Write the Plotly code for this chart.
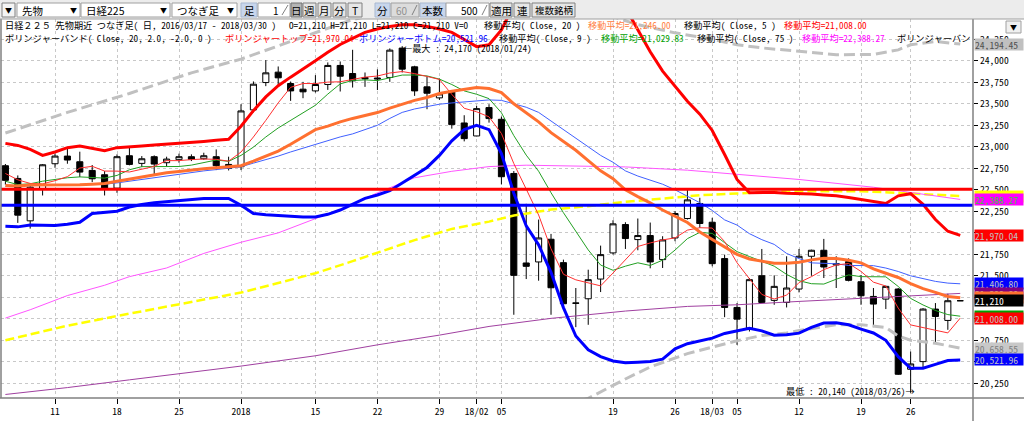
import plotly.graph_objects as go

# ---------------- data ----------------
DATES = ["12/05","12/06","12/07","12/08","12/11","12/12","12/13","12/14","12/15","12/18","12/19","12/20","12/21","12/22",
         "12/25","12/26","12/27","12/28","12/29","01/04","01/05","01/09","01/10","01/11","01/12","01/15","01/16","01/17",
         "01/18","01/19","01/22","01/23","01/24","01/25","01/26","01/29","01/30","01/31","02/01","02/02","02/05","02/06",
         "02/07","02/08","02/09","02/13","02/14","02/15","02/16","02/19","02/20","02/21","02/22","02/23","02/26","02/27",
         "02/28","03/01","03/02","03/05","03/06","03/07","03/08","03/09","03/12","03/13","03/14","03/15","03/16","03/19",
         "03/20","03/22","03/23","03/26","03/27","03/28","03/29","03/30"]

OPEN = [22780,22632,22139,22512,22803,22892,22826,22725,22675,22519,22896,22807,22885,22815,22850,22885,22861,22885,22795,
        22768,23429,23747,23868,23736,23670,23650,23724,23946,23852,23806,23800,23806,24148,23930,23697,23569,23639,23277,
        23126,23456,23320,22690,21649,21661,21925,21653,21185,21233,21462,21766,22096,21921,21968,21688,21940,22166,22341,
        22123,21700,21132,20891,21501,21214,21190,21346,21727,21797,21626,21665,21431,21260,21229,21346,20413,20502,21113,
        20981,21210]
HIGH = [22800,22667,22574,22799,22920,22978,22943,22788,22718,22912,22986,22892,22900,22885,22920,22912,22931,22970,22885,
        23495,23760,24008,23934,23759,23755,23833,23981,23992,24128,23864,23900,24144,24170,23942,23817,23794,23650,23367,
        23475,23495,23351,22718,22337,22154,21987,21688,21358,21571,21851,22146,22123,22166,22119,21960,22251,22516,22407,
        22174,21746,21183,21474,21812,21505,21727,21812,21804,21929,21727,21703,21509,21358,21385,21358,20619,21124,21183,
        21291,21210]
LOW = [22560,22115,22049,22434,22756,22803,22648,22589,22434,22465,22784,22764,22683,22768,22815,22834,22850,22729,22725,
       22729,23400,23705,23716,23534,23565,23631,23662,23643,23689,23697,23660,23755,23864,23592,23437,23545,23211,23063,
       23122,23281,22562,21047,21462,21443,21047,21144,20903,20930,21311,21746,21812,21797,21587,21591,21902,22154,22057,
       21610,21019,20697,20852,21183,21163,21132,21307,21501,21474,21358,21435,21163,20903,21113,20347,20140,20425,20716,
       20872,21210]
CLOSE = [22610,22205,22531,22791,22892,22846,22706,22628,22519,22885,22795,22861,22799,22857,22885,22854,22896,22780,22749,
         23417,23728,23860,23802,23650,23639,23724,23946,23821,23767,23790,23790,24124,23903,23650,23623,23615,23258,23095,
         23444,23328,22652,21505,21610,21940,21361,21175,21180,21455,21746,22104,21933,21968,21661,21917,22224,22383,22108,
         21641,21132,20996,21455,21190,21377,21358,21727,21797,21602,21641,21447,21268,21171,21377,20355,20475,21113,21027,
         21210,21210]

MA5 = [22690,22616,22574,22569,22606,22653,22753,22773,22718,22717,22707,22738,22772,22839,22839,22851,22858,22854,22833,
       22939,23114,23307,23511,23691,23736,23735,23752,23756,23779,23810,23823,23858,23875,23851,23818,23783,23610,23448,
       23407,23348,23155,22805,22508,22207,21814,21518,21453,21422,21383,21532,21684,21841,21882,21917,21941,22031,22059,
       22055,21898,21652,21466,21283,21230,21275,21421,21490,21572,21625,21643,21551,21426,21381,21124,20929,20898,20869,
       20836,21008]
MA9 = [22600,22560,22570,22600,22620,22640,22650,22640,22636,22667,22733,22769,22770,22766,22771,22787,22817,22846,22831,
       22900,22996,23114,23219,23304,23391,23483,23613,23732,23771,23778,23770,23806,23834,23835,23824,23787,23724,23650,
       23611,23560,23396,23130,22903,22716,22466,22234,22022,21801,21625,21564,21612,21651,21620,21682,21799,21932,22005,
       21993,21885,21781,21724,21672,21612,21516,21443,21408,21404,21460,21510,21490,21488,21488,21376,21237,21161,21097,
       21049,21030]
MA20 = [22550,22543,22555,22555,22550,22555,22558,22565,22574,22600,22625,22650,22675,22698,22712,22730,22745,22755,22764,
        22780,22834,22890,22950,23030,23120,23200,23240,23290,23330,23365,23398,23450,23495,23540,23573,23620,23645,23665,
        23689,23677,23631,23500,23400,23290,23165,23060,22960,22840,22720,22630,22500,22420,22349,22265,22190,22120,22010,
        21920,21840,21750,21695,21670,21645,21645,21657,21685,21705,21700,21680,21650,21580,21530,21480,21410,21350,21307,
        21260,21246]
BB_UP = [23040,23016,22970,22900,22940,22990,23009,22980,22955,22990,22997,23010,23021,23030,23040,23050,23063,23075,23087,
         23240,23420,23580,23710,23810,23900,24000,24100,24190,24260,24330,24370,24400,24420,24420,24400,24370,24330,24245,
         24165,24186,24360,24650,24850,24950,25050,25100,25100,25050,24950,24800,24620,24360,24105,23880,23700,23530,23380,
         23190,22910,22620,22465,22470,22470,22460,22457,22450,22440,22430,22410,22387,22368,22341,22430,22455,22330,22154,
         22018,21970]
BB_LO = [22075,22069,22090,22090,22084,22100,22123,22225,22240,22251,22300,22330,22349,22360,22372,22390,22399,22399,22399,
         22320,22224,22210,22201,22190,22185,22185,22215,22265,22335,22400,22440,22490,22580,22670,22760,22900,23070,23200,
         23250,23200,22920,22460,22080,21860,21540,21130,20800,20640,20560,20510,20490,20495,20503,20530,20650,20710,20740,
         20775,20830,20860,20891,20860,20810,20815,20833,20900,20950,20955,20930,20880,20835,20750,20560,20425,20425,20470,
         20515,20522]
MA_BLUE = [22540,22545,22550,22555,22560,22560,22560,22560,22565,22580,22600,22625,22645,22665,22685,22705,22720,22735,22748,
           22768,22810,22850,22892,22940,22985,23025,23070,23115,23150,23200,23250,23330,23400,23440,23470,23495,23510,23522,
           23532,23545,23540,23500,23460,23400,23300,23210,23100,23000,22900,22820,22720,22660,22610,22565,22500,22426,22350,
           22260,22150,22090,21990,21920,21865,21760,21700,21650,21648,21640,21620,21618,21618,21590,21550,21500,21465,21435,
           21415,21407]

MA75_IDX = [0, 2, 5, 8, 10, 13, 16, 19, 22, 25, 28, 30, 33, 36, 39, 42, 47, 50, 55, 59, 64, 70, 72, 75, 77]
MA75 = [21008,21105,21270,21390,21490,21591,21760,21890,21999,22160,22330,22465,22640,22715,22770,22786,22776,22766,
        22728,22680,22620,22530,22487,22426,22388]
YEL_IDX = [0, 2, 5, 8, 10, 13, 16, 19, 22, 25, 28, 30, 33, 36, 39, 41, 44, 47, 50, 53, 56, 59, 62, 65, 69, 72, 75, 77]
YEL = [20750,20820,20920,21005,21060,21144,21225,21305,21416,21530,21670,21766,21915,22045,22130,22200,22270,22310,
       22360,22398,22436,22457,22478,22484,22484,22465,22444,22427]
PUR_IDX = [0, 5, 10, 15, 19, 25, 30, 35, 39, 44, 50, 55, 59, 64, 70, 75, 77]
PUR = [20120,20200,20290,20380,20450,20570,20697,20810,20911,21005,21090,21144,21163,21202,21245,21280,21295]
GUP_IDX = [0, 5, 10, 15, 19, 22, 25, 28, 32, 36, 40, 44, 48, 51, 54, 57, 59, 61, 64, 67, 70, 72, 73, 75, 77]
GUP = [23160,23400,23620,23860,24020,24175,24330,24480,24600,24700,24720,24650,24560,24420,24325,24250,24186,24150,
       24110,24069,24075,24127,24186,24225,24194]
GLO_IDX = [44, 47, 50, 52, 55, 59, 61, 63, 64, 67, 69, 71, 72, 73, 75, 77]
GLO = [19950,20075,20300,20440,20595,20745,20805,20835,20865,20930,20932,20900,20800,20750,20716,20658]

HLINE_RED = 22505
HLINE_BLUE = 22320

TICK_IDX = [4, 9, 14, 19, 25, 30, 35, 38, 40, 49, 54, 57, 59, 64, 69, 73]
TICK_TEXT = ["11", "18", "25", "2018", "15", "22", "29", "18/02", "05", "19", "26", "18/03", "05", "12", "19", "26"]
Y_TICKS = [20250, 20500, 20750, 21000, 21250, 21500, 21750, 22000, 22250, 22500, 22750, 23000, 23250, 23500, 23750, 24000, 24250]
# labels hidden behind the value boxes in the reference are left blank
Y_TEXT = ["20,250", "", "20,750", "", "", "21,500", "21,750", "", "22,250", "22,500",
          "22,750", "23,000", "23,250", "23,500", "23,750", "24,000", "24,250"]

# value labels on the right (value, text, background, text colour), in drawing order
VALUE_LABELS = [
    (24194.45, "24,194.45", "#c0c0c0", "#505050"),
    (22426.50, "22,426.50", "#ffff00", "#909090"),
    (22388.27, "22,388.27", "#ff00ff", "#40c040"),
    (21970.04, "21,970.04", "#ff0000", "#c0c0c0"),
    (21406.80, "21,406.80", "#0000ff", "#c0c0c0"),
    (21298.80, "21,298.80", "#800080", "#c0c0c0"),
    (21246.00, "21,246.00", "#ff7030", "#c0c0c0"),
    (21210.00, "21,210", "#000000", "#ffffff"),
    (21029.83, "21,029.83", "#00a000", "#c0c0c0"),
    (21008.00, "21,008.00", "#ff0000", "#c0c0c0"),
    (20658.55, "20,658.55", "#c8c8c8", "#808080"),
    (20521.96, "20,521.96", "#0000ff", "#c0c0c0"),
]

# ---------------- geometry ----------------
W, H = 1024, 421
ML, MR, MT, MB = 1, 51, 19, 23
PW, PH = W - ML - MR, H - MT - MB


def PX(px):
    return (px - ML) / PW


def PY(py):
    return (H - MB - py) / PH


X = list(range(len(DATES)))
FONT = "Noto Sans Mono CJK JP, Noto Sans CJK JP, sans-serif"
UIFONT = "Noto Sans CJK JP, sans-serif"

fig = go.Figure()

fig.add_trace(go.Candlestick(
    x=X, open=OPEN, high=HIGH, low=LOW, close=CLOSE,
    increasing=dict(line=dict(color="#000000", width=1), fillcolor="#ffffff"),
    decreasing=dict(line=dict(color="#000000", width=1), fillcolor="#000000"),
    whiskerwidth=0, showlegend=False, hoverinfo="skip"))


def line(xs, ys, color, width, dash=None):
    fig.add_trace(go.Scatter(x=xs, y=ys, mode="lines", showlegend=False, hoverinfo="skip",
                             line=dict(color=color, width=width, dash=dash)))


line(PUR_IDX, PUR, "#a040a0", 1)
line(YEL_IDX, YEL, "#ffff00", 2.5, "9px,4px")
line(MA75_IDX, MA75, "#ff55ff", 1)
line(GUP_IDX, GUP, "#c0c0c0", 3, "11px,5px")
line(GLO_IDX, GLO, "#c0c0c0", 3, "11px,5px")
line(X, MA_BLUE, "#4060ff", 1)
line(X, MA9, "#22a022", 1)
line(X, MA5, "#ff3030", 1)
line(X, MA20, "#ff7030", 3)
line(X, BB_LO, "#0000ff", 3)
line(X, BB_UP, "#ff0000", 3)
line([-1, 79], [HLINE_RED, HLINE_RED], "#ff0000", 3)
line([-1, 79], [HLINE_BLUE, HLINE_BLUE], "#0000ff", 3)

xr = [-0.355, 78.03]
yr = [20079, 24486]

fig.update_layout(
    width=W, height=H, margin=dict(l=ML, r=MR, t=MT, b=MB),
    paper_bgcolor="#ffffff", plot_bgcolor="#ffffff",
    xaxis=dict(range=xr, tickvals=TICK_IDX, ticktext=TICK_TEXT, showgrid=True, gridcolor="#c8c8c8",
               griddash="3px,3px", zeroline=False, ticks="outside", ticklen=5, tickcolor="#000000",
               tickfont=dict(family=FONT, size=9.5, color="#000000"), rangeslider=dict(visible=False),
               showline=False, fixedrange=True),
    yaxis=dict(range=yr, side="right", tickvals=Y_TICKS, ticktext=Y_TEXT, showgrid=True, gridcolor="#c8c8c8",
               griddash="3px,3px", zeroline=False, ticks="outside", ticklen=4, tickcolor="#000000",
               tickfont=dict(family=FONT, size=9.6, color="#000000"), showline=False, fixedrange=True),
    showlegend=False,
)

shapes = []
ann = []


def rect(x0, y0, x1, y1, fill, border=None, bw=1):
    shapes.append(dict(type="rect", xref="paper", yref="paper", x0=PX(x0), x1=PX(x1), y0=PY(y0), y1=PY(y1),
                       fillcolor=fill, line=dict(color=border or fill, width=bw if border else 0), layer="above"))


def seg(x0, y0, x1, y1, color, w=1):
    shapes.append(dict(type="line", xref="paper", yref="paper", x0=PX(x0), x1=PX(x1), y0=PY(y0), y1=PY(y1),
                       line=dict(color=color, width=w), layer="above"))


def txt(px, py, s, color="#000000", size=9.2, anchor="left", font=FONT):
    ann.append(dict(xref="paper", yref="paper", x=PX(px), y=PY(py), text=s, showarrow=False, xanchor=anchor,
                    yanchor="middle", font=dict(family=font, size=size, color=color)))


# frame lines
seg(973, 19, 973, 421, "#808080", 1.5)
seg(0, 398, 1024, 398, "#808080", 1.5)
seg(1, 19, 1, 398, "#808080", 1.5)

# toolbar
rect(0, 0, 1024, 19, "#ececec")
seg(0, 19, 1024, 19, "#a0a0a0", 1)
rect(2, 3, 15, 17, "#f4f4f4", "#808080")
txt(8.5, 10, "▼", size=7, anchor="center", font=UIFONT)
for (a, b, label, arr) in [(17, 80, "先物", 73), (81, 170, "日経225", 163), (172, 237, "つなぎ足", 230)]:
    rect(a, 3, b, 17, "#ffffff", "#a0a0a0")
    txt(a + 3, 10, label, size=10.5, font=UIFONT)
    txt(arr, 10, "▼", size=7, anchor="center", font=UIFONT)
for (a, b, label) in [(241, 257, "足"), (375, 390, "分"), (420, 446, "本数")]:
    rect(a, 3, b, 17, "#c8d6ec", "#a8b8d0")
    txt((a + b) / 2, 10, label, size=10.5, anchor="center", font=UIFONT)
rect(258, 3, 290, 17, "#ffffff", "#a0a0a0")
txt(281, 10, "1", size=10, anchor="right", font=UIFONT)
rect(391, 3, 419, 17, "#dcdcdc", "#a0a0a0")
txt(410, 10, "60", color="#909090", size=10, anchor="right", font=UIFONT)
rect(446, 3, 489, 17, "#ffffff", "#a0a0a0")
txt(480, 10, "500", size=10, anchor="right", font=UIFONT)
for (a, b) in [(281, 289), (411, 418), (481, 488)]:
    seg(a + 1, 15, b - 1, 5, "#808080", 1)
rect(291, 3, 302, 17, "#b4b4b4", "#707070")
txt(296.5, 10, "日", size=10.5, anchor="center", font=UIFONT)
for (a, b, label) in [(303, 316, "週"), (318, 331, "月"), (333, 346, "分"), (348, 362, "T"),
                      (490, 512, "適用"), (514, 530, "連"), (532, 575, "複数銘柄")]:
    rect(a, 3, b, 17, "#e6e6e6", "#808080")
    txt((a + b) / 2, 10, label, size=10.5 if len(label) < 4 else 9.5, anchor="center", font=UIFONT)
rect(1006, 21, 1021, 33, "#f0f0f0", "#a0a0a0")
txt(1013.5, 27, "▼", size=7, anchor="center", font=UIFONT)

# header lines
txt(3, 25, "日経２２５ 先物期近 つなぎ足( 日, 2016/03/17 - 2018/03/30 )")
txt(287, 25, "O=21,210 H=21,210 L=21,210 C=21,210 V=0")
txt(482, 25, "移動平均( Close, 20 )")
txt(586, 25, "移動平均=21,246.00", color="#ff8040")
txt(682, 25, "移動平均( Close, 5 )")
txt(782, 25, "移動平均=21,008.00", color="#ff0000")
txt(3, 38, "ボリンジャーバンド( Close, 20, 2.0, -2.0, 0 )")
txt(223, 38, "ボリンジャートップ=21,970.04", color="#ff0000")
txt(357, 38, "ボリンジャーボトム=20,521.96", color="#0000ff")
txt(497, 38, "移動平均( Close, 9 )")
txt(599, 38, "移動平均=21,029.83", color="#00a000")
txt(695, 38, "移動平均( Close, 75 )")
txt(800, 38, "移動平均=22,388.27", color="#ff00ff")
txt(895, 38, "ボリンジャーバン")

# max / min notes
txt(401, 47.5, "←最大 : 24,170 (2018/01/24)")
txt(917, 391, "最低 : 20,140 (2018/03/26)→", anchor="right")

# value labels
for v, s, bg, fg in VALUE_LABELS:
    ann.append(dict(xref="paper", yref="y", x=PX(974), y=v, text=s, showarrow=False, xanchor="left",
                    yanchor="middle", bgcolor=bg, borderpad=0, width=48, height=11, align="left",
                    font=dict(family=FONT, size=9.6, color=fg)))

fig.update_layout(shapes=shapes, annotations=ann)
fig.write_html("out.html", config={"displayModeBar": False},
               post_script="document.body.style.margin='0px';document.body.style.overflow='hidden';")
